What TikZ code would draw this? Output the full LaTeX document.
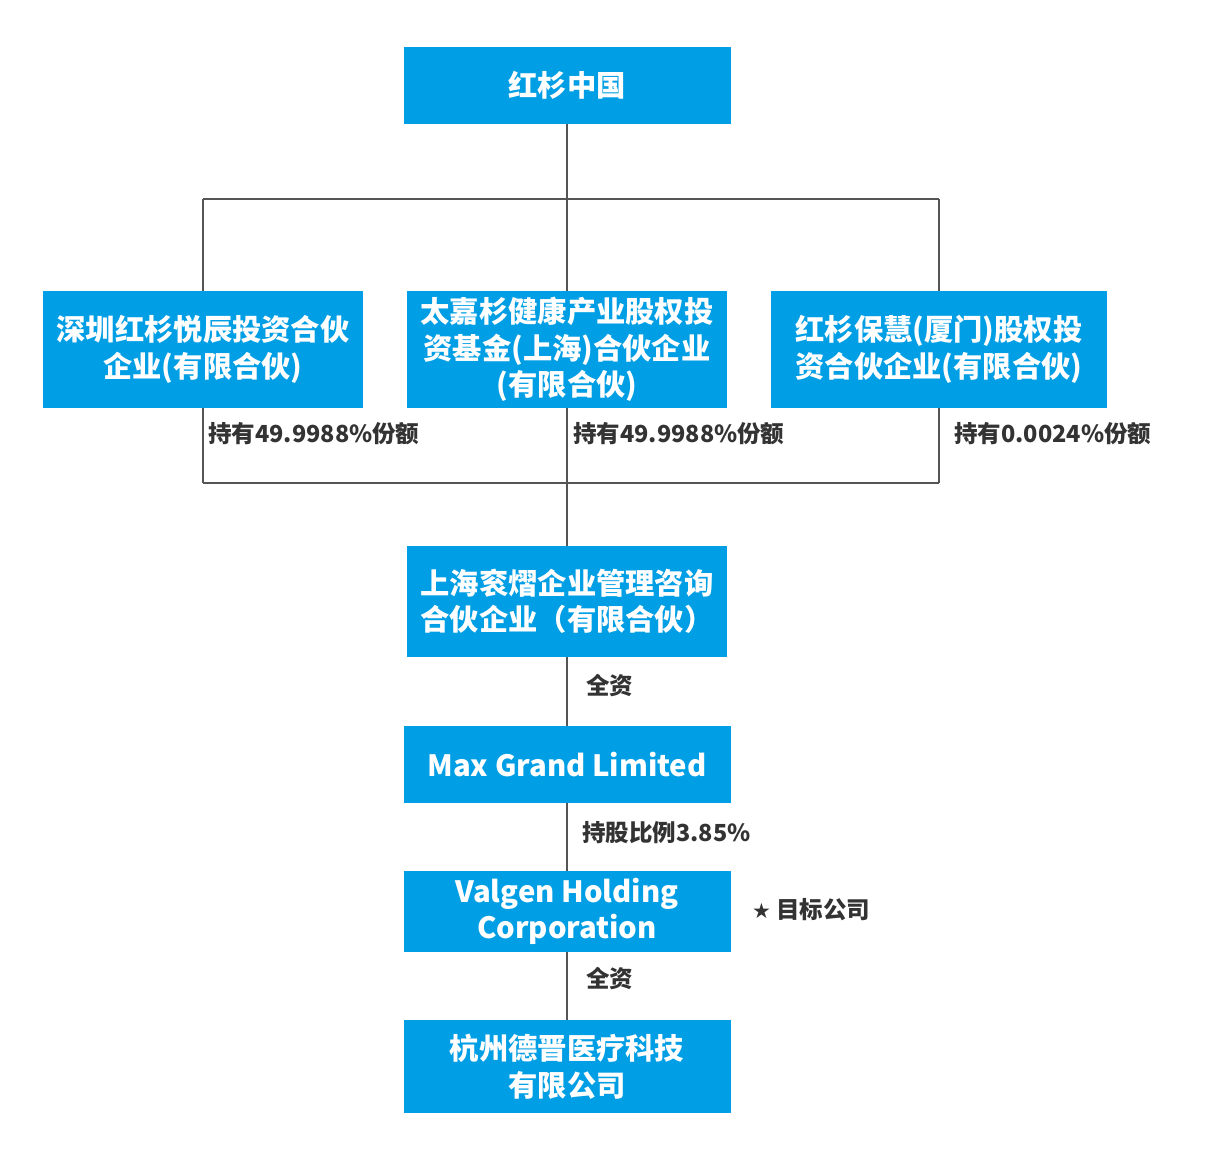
\documentclass[tikz,border=0pt]{standalone}
\usepackage{fontspec}
\setmainfont{Noto Sans CJK SC}
\newfontfamily\starfont{DejaVu Sans}
\definecolor{boxblue}{RGB}{0,158,228}
\definecolor{linegray}{RGB}{85,85,85}
\definecolor{labelgray}{RGB}{51,51,51}
\tikzset{
	entity/.style={fill=boxblue, text=white, align=center, inner sep=0pt,
		font=\fontsize{29.3}{36.5}\selectfont\bfseries},
	share/.style={anchor=west, inner sep=0pt, text=labelgray,
		font=\fontsize{23.5}{27}\selectfont\bfseries},
	link/.style={draw=linegray, line width=1.6pt}
}
\begin{document}
\begin{tikzpicture}[x=1pt, y=-1pt]
	\useasboundingbox (0,0) rectangle (1210,1162);

	% owners
	\node[entity, minimum width=327, minimum height=77] (root) at (567,85.5) {红杉中国};
	\node[entity, minimum width=320, minimum height=117] (fundA) at (203,349.5) {深圳红杉悦辰投资合伙\\企业(有限合伙)};
	\node[entity, minimum width=320, minimum height=117] (fundB) at (567,349.5) {太嘉杉健康产业股权投\\资基金(上海)合伙企业\\(有限合伙)};
	\node[entity, minimum width=336, minimum height=117] (fundC) at (939,349.5) {红杉保慧(厦门)股权投\\资合伙企业(有限合伙)};

	% chain
	\node[entity, minimum width=320, minimum height=111] (lp) at (567,601.5) {上海衮熠企业管理咨询\\合伙企业（有限合伙）};
	\node[entity, minimum width=327, minimum height=77] (maxg) at (567,764.5) {Max Grand Limited};
	\node[entity, minimum width=327, minimum height=81] (valgen) at (567,911.5) {Valgen Holding\\Corporation};
	\node[entity, minimum width=327, minimum height=93] (dejin) at (567,1066.5) {杭州德晋医疗科技\\有限公司};

	\coordinate (top) at (567,199);
	\coordinate (tl) at (203,199);
	\coordinate (tr) at (939,199);
	\coordinate (bm) at (567,483);
	\coordinate (bl) at (203,483);
	\coordinate (br) at (939,483);

	\draw[link] (root.south) -- (top);
	\draw[link] (tl) -- (tr);
	\draw[link] (bl) -- (br);
	\foreach \c / \f / \d in {
	tl/fundA/bl, 
	top/fundB/bm, 
	tr/fundC/br}
	{
		\draw[link] (\c) -- (\f.north);
		\draw[link] (\f.south) -- (\d);
	};
	\draw[link] (bm) -- (lp.north);
	\foreach \i / \j in {
	lp/maxg, 
	maxg/valgen, 
	valgen/dejin}
	{
		\draw[link] (\i.south) -- (\j.north);
	};

	% shares
	\node[share] (sA) at (208,434) {持有49.9988\%份额};
	\node[share] (sB) at (573,434) {持有49.9988\%份额};
	\node[share] (sC) at (954,434) {持有0.0024\%份额};
	\node[share] (s1) at (586,685) {全资};
	\node[share] (s2) at (582,833) {持股比例3.85\%};
	\node[share] (s3) at (586,978) {全资};
	\node[share] (target) at (752,910) {{\starfont\fontsize{21}{24}\selectfont ★} 目标公司};
\end{tikzpicture}
\end{document}
